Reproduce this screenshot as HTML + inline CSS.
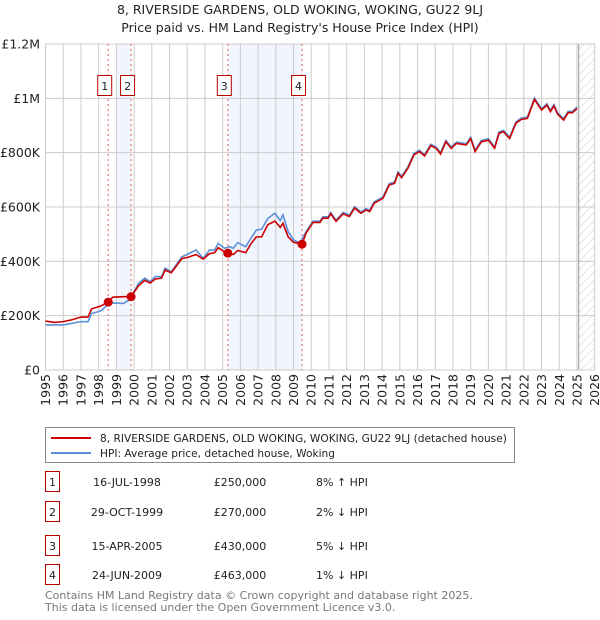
<!DOCTYPE html>
<html><head><meta charset="utf-8"><style>
body{margin:0;background:#fff;font-family:"Liberation Sans","DejaVu Sans",sans-serif;}
#wrap{position:relative;width:600px;height:620px;overflow:hidden;}
svg text{font-family:"DejaVu Sans","Liberation Sans",sans-serif;}
</style></head><body>
<div id="wrap">
<svg id="chart" width="600" height="620" xmlns="http://www.w3.org/2000/svg">
<defs><pattern id="hatch" width="6" height="6" patternUnits="userSpaceOnUse" patternTransform="rotate(45)"><line x1="0" y1="0" x2="0" y2="6" stroke="#ccc" stroke-width="1"/></pattern></defs>
<text x="300" y="14" text-anchor="middle" font-size="12.5" fill="#222">8, RIVERSIDE GARDENS, OLD WOKING, WOKING, GU22 9LJ</text>
<text x="300" y="32" text-anchor="middle" font-size="12.5" fill="#222">Price paid vs. HM Land Registry's House Price Index (HPI)</text>
<g id="plot"></g>
<g>
<rect x="45.5" y="427.5" width="469" height="35" fill="#fff" stroke="#888"/>
<line x1="51" y1="438" x2="91" y2="438" stroke="#cc0000" stroke-width="2"/>
<text x="100" y="442" font-size="10.6" fill="#222">8, RIVERSIDE GARDENS, OLD WOKING, WOKING, GU22 9LJ (detached house)</text>
<line x1="51" y1="453" x2="91" y2="453" stroke="#5b8fd6" stroke-width="2"/>
<text x="100" y="457" font-size="10.6" fill="#222">HPI: Average price, detached house, Woking</text>
</g>
<g id="table"></g>
<text x="45" y="599" font-size="11" fill="#777">Contains HM Land Registry data © Crown copyright and database right 2025.</text>
<text x="45" y="611" font-size="11" fill="#777">This data is licensed under the Open Government Licence v3.0.</text>
</svg>
</div>
<script>
const yTicks=[0,200,400,600,800,1000,1200];
const yTickLabels=["£0","£200K","£400K","£600K","£800K","£1M","£1.2M"];
const xYears=[1995,1996,1997,1998,1999,2000,2001,2002,2003,2004,2005,2006,2007,2008,2009,2010,2011,2012,2013,2014,2015,2016,2017,2018,2019,2020,2021,2022,2023,2024,2025,2026];
const hpiDates=[1995,1996,1997,1997.4,1997.6,1998.1,1998.5,1998.8,1999.4,1999.7,1999.95,2000.25,2000.6,2000.9,2001.2,2001.55,2001.75,2002.1,2002.7,2003.05,2003.5,2003.9,2004.25,2004.55,2004.75,2005.1,2005.4,2005.6,2005.85,2006.3,2006.6,2006.9,2007.2,2007.55,2007.95,2008.25,2008.4,2008.7,2009.0,2009.35,2009.7,2010.1,2010.5,2010.65,2010.95,2011.1,2011.4,2011.8,2012.15,2012.45,2012.8,2013.1,2013.3,2013.55,2014.05,2014.4,2014.7,2014.9,2015.1,2015.45,2015.8,2016.1,2016.4,2016.75,2017.05,2017.3,2017.6,2017.9,2018.2,2018.75,2019.0,2019.25,2019.6,2020.0,2020.35,2020.6,2020.85,2021.2,2021.55,2021.85,2022.2,2022.6,2023.0,2023.3,2023.5,2023.7,2023.9,2024.25,2024.5,2024.75,2025.0];
const hpiValues=[166,166,178,178,208,217,239,247,245,257,282,319,338,325,344,344,375,362,417,427,442,411,441,442,466,448,454,448,469,454,485,515,518,558,577,550,571,509,479,467,508,548,548,564,564,580,552,580,570,601,582,594,588,619,637,686,692,729,713,747,797,809,793,831,821,800,845,821,839,833,857,809,845,851,821,876,882,857,913,927,931,1001,962,980,956,977,947,925,952,952,968];
const priceDates=[1995,1995.5,1996,1996.5,1997,1997.4,1997.6,1998.1,1998.54,1998.8,1999.4,1999.83,2000.25,2000.6,2000.9,2001.2,2001.55,2001.75,2002.1,2002.7,2003.05,2003.5,2003.9,2004.25,2004.55,2004.75,2005.1,2005.29,2005.6,2005.85,2006.3,2006.6,2006.9,2007.2,2007.55,2007.95,2008.25,2008.4,2008.7,2009.0,2009.48,2009.7,2010.1,2010.5,2010.65,2010.95,2011.1,2011.4,2011.8,2012.15,2012.45,2012.8,2013.1,2013.3,2013.55,2014.05,2014.4,2014.7,2014.9,2015.1,2015.45,2015.8,2016.1,2016.4,2016.75,2017.05,2017.3,2017.6,2017.9,2018.2,2018.75,2019.0,2019.25,2019.6,2020.0,2020.35,2020.6,2020.85,2021.2,2021.55,2021.85,2022.2,2022.6,2023.0,2023.3,2023.5,2023.7,2023.9,2024.25,2024.5,2024.75,2025.0];
const priceValues=[180,175,178,185,195,195,225,235,250,268,270,270,310,330,320,335,338,368,358,410,415,425,408,428,432,450,435,430,425,440,432,465,490,490,535,548,525,540,490,470,463,503,543,543,559,559,575,547,575,565,596,577,589,583,614,632,681,687,724,708,742,792,804,788,826,816,795,840,816,834,828,852,804,840,846,816,871,877,852,908,922,926,996,957,975,951,972,942,920,947,947,963];
const saleDates=[1998.54,1999.83,2005.29,2009.48];
const salePrices=[250,270,430,463];
const saleLabels=["1","2","3","4"];
const saleDateText=["16-JUL-1998","29-OCT-1999","15-APR-2005","24-JUN-2009"];
const salePriceText=["£250,000","£270,000","£430,000","£463,000"];
const saleHpiText=["8% ↑ HPI","2% ↓ HPI","5% ↓ HPI","1% ↓ HPI"];

const NS="http://www.w3.org/2000/svg";
const X0=45.5,X1=594.7,Y0=370,Y1=44;
const xs=y=>X0+(y-1995)/(2026-1995)*(X1-X0);
const ys=v=>Y0-v/1200*(Y0-Y1);
const plot=document.getElementById('plot');
function mk(tag,attrs,parent){const e=document.createElementNS(NS,tag);for(const k in attrs)e.setAttribute(k,attrs[k]);(parent||plot).appendChild(e);return e;}
let s=mk('rect',{x:xs(1999.0),y:Y1,width:xs(saleDates[1])-xs(1999.0),height:Y0-Y1,fill:'#f1f5fd'});


s=mk('rect',{x:xs(saleDates[2]),y:Y1,width:xs(saleDates[3])-xs(saleDates[2]),height:Y0-Y1,fill:'#f1f5fd'});


s=mk('rect',{x:xs(2025.1),y:Y1,width:X1-xs(2025.1),height:Y0-Y1,fill:'url(#hatch)'});


yTicks.forEach((t,i)=>{
 const l=mk('line',{x1:X0,x2:X1,y1:ys(t),y2:ys(t),stroke:'#ccc','stroke-width':1});
 
 
 const tx=mk('text',{x:40,y:ys(t)+4.5,'text-anchor':'end','font-size':12.5,fill:'#222'});
 tx.textContent=yTickLabels[i];
 
 
});
xYears.forEach(yr=>{
 const l=mk('line',{x1:xs(yr),x2:xs(yr),y1:Y1,y2:Y0,stroke:'#ccc','stroke-width':1});
 
 
 const tx=mk('text',{x:0,y:0,'text-anchor':'end','font-size':12.5,fill:'#222',transform:`translate(${xs(yr)+4.5},374) rotate(-90)`});
 tx.textContent=yr;
 
 
});
s=mk('line',{x1:xs(2025.1),x2:xs(2025.1),y1:Y1,y2:Y0,stroke:'#999','stroke-width':1});


saleDates.forEach((d,i)=>{
 const l=mk('line',{x1:xs(d),x2:xs(d),y1:Y1,y2:Y0,stroke:'#e06060','stroke-width':1,'stroke-dasharray':'2,3'});
 
 
 const r=mk('rect',{x:xs(d)-10.5,y:75.5,width:14,height:20,fill:'#fff',stroke:'#b00','stroke-width':1});
 
 
 const t=mk('text',{x:xs(d)-3.5,y:90,'text-anchor':'middle','font-size':11,fill:'#222'});
 t.textContent=saleLabels[i];
 
 
});
const hp=mk('polyline',{points:hpiDates.map((d,i)=>xs(d)+','+ys(hpiValues[i])).join(' '),fill:'none',stroke:'#5b8fd6','stroke-width':1.6});


const pp=mk('polyline',{points:priceDates.map((d,i)=>xs(d)+','+ys(priceValues[i])).join(' '),fill:'none',stroke:'#cc0000','stroke-width':1.6});


saleDates.forEach((d,i)=>{
 const c=mk('circle',{cx:xs(d),cy:ys(salePrices[i]),r:4.5,fill:'#cc0000'});
 
 
});
const tb=document.getElementById('table');
const rowY=[482,512,546,575];
saleLabels.forEach((lb,i)=>{
 const y=rowY[i];
 const r=mk('rect',{x:45.5,y:y-10.5,width:14,height:20,fill:'#fff',stroke:'#b00'},tb);
 
 
 const cols=[[52.5,lb,'middle','table-marker-label'],[127,saleDateText[i],'middle','table-date'],[240,salePriceText[i],'middle','table-price'],[316,saleHpiText[i],'start','table-hpi-change']];
 cols.forEach(c=>{
  const t=mk('text',{x:c[0],y:y+4,'text-anchor':c[2],'font-size':11,fill:'#222'},tb);
  t.textContent=c[1];
  
  
 });
});
</script>
</body></html>
